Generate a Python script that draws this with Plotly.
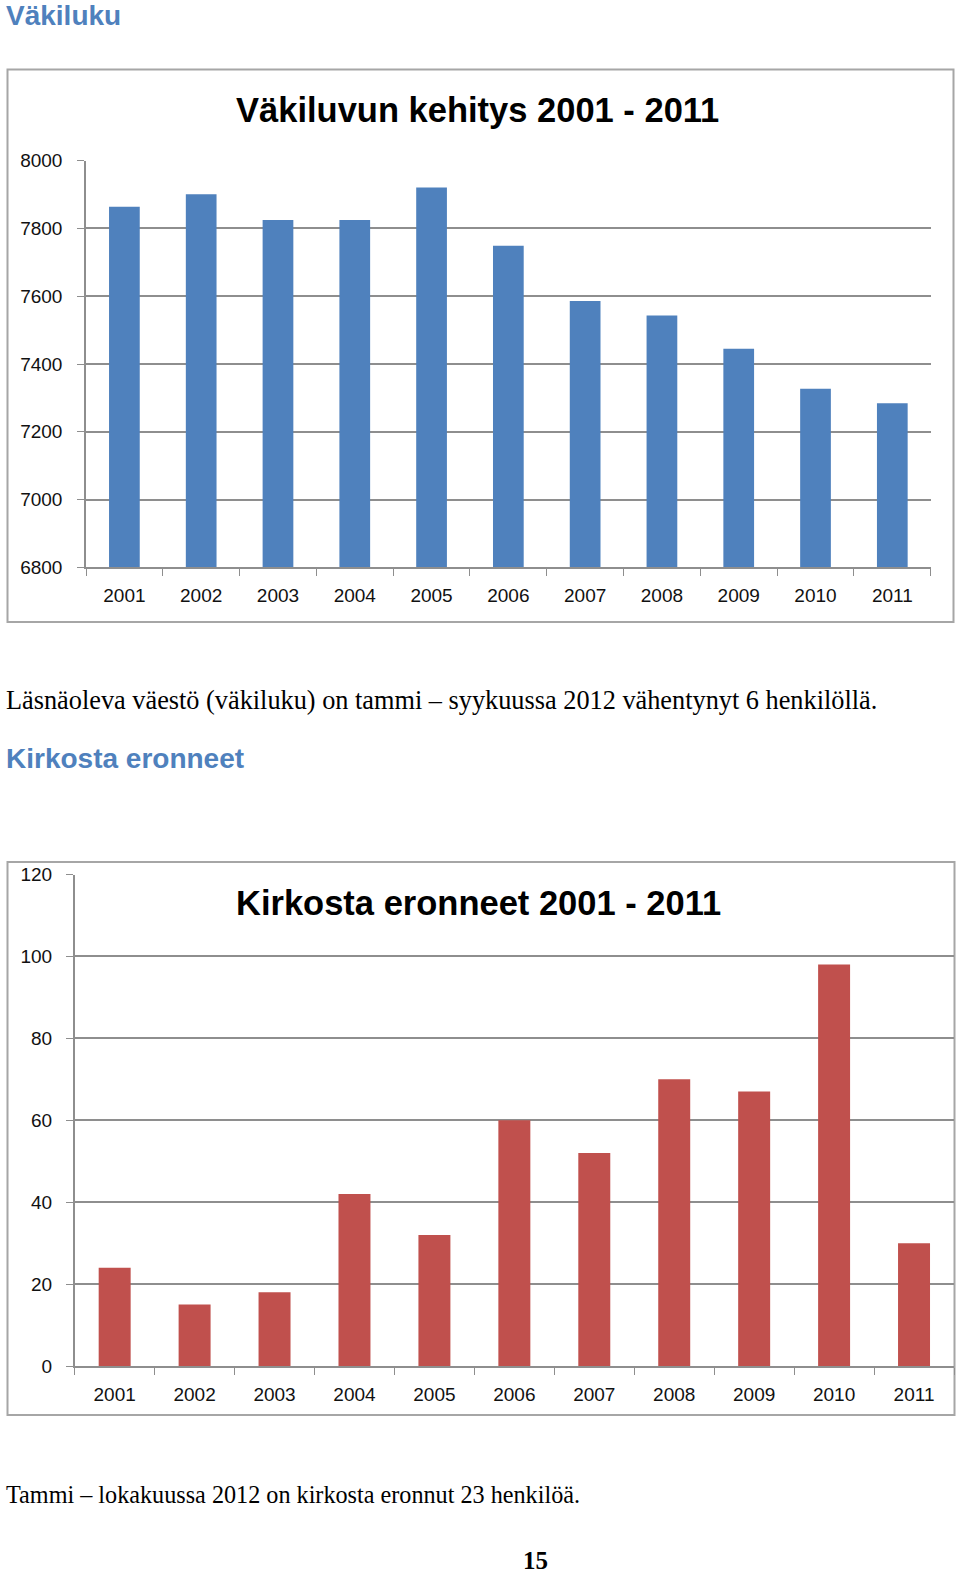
import plotly.graph_objects as go

W, H = 960, 1574

years = ["2001", "2002", "2003", "2004", "2005", "2006", "2007", "2008", "2009", "2010", "2011"]
vakiluku = [7864, 7901, 7825, 7825, 7921, 7749, 7586, 7543, 7445, 7327, 7284]
eronneet = [24, 15, 18, 42, 32, 60, 52, 70, 67, 98, 30]

y1_ticks = [6800, 7000, 7200, 7400, 7600, 7800, 8000]
y2_ticks = [0, 20, 40, 60, 80, 100, 120]

title1 = "Väkiluvun kehitys 2001 - 2011"
title2 = "Kirkosta eronneet 2001 - 2011"
heading1 = "Väkiluku"
heading2 = "Kirkosta eronneet"
text1 = "Läsnäoleva väestö (väkiluku) on tammi – syykuussa 2012 vähentynyt 6 henkilöllä."
text2 = "Tammi – lokakuussa 2012 on kirkosta eronnut 23 henkilöä."
page_no = "15"

BLUE = "#4F81BD"
RED = "#C0504D"
GRID = "#8E8E8E"
BOX = "#A6A6A6"
SANS = "Liberation Sans, Arial, sans-serif"
SERIF = "Liberation Serif, Times New Roman, serif"


def px(x):
    return x / W


def py(y):
    return 1 - y / H


fig = go.Figure()
fig.add_trace(go.Bar(x=years, y=vakiluku, marker=dict(color=BLUE, line=dict(width=0)),
                     xaxis="x", yaxis="y", hoverinfo="skip"))
fig.add_trace(go.Bar(x=years, y=eronneet, marker=dict(color=RED, line=dict(width=0)),
                     xaxis="x2", yaxis="y2", hoverinfo="skip"))

axis_common = dict(showline=True, linecolor=GRID, linewidth=1.5, ticks="outside",
                   ticklen=7, tickcolor=GRID, tickwidth=1.2, automargin=False,
                   tickfont=dict(family=SANS, size=19, color="#111111"), fixedrange=True)

fig.update_layout(
    width=W, height=H, margin=dict(l=0, r=0, t=0, b=0, pad=0, autoexpand=False),
    paper_bgcolor="white", plot_bgcolor="white",
    showlegend=False, bargap=0.6,
    xaxis=dict(domain=[px(86), px(930.7)], anchor="y", type="category",
               tickson="boundaries", showgrid=False, ticklabelstandoff=10, **axis_common),
    yaxis=dict(domain=[py(567.3), py(160.7)], anchor="x", range=[6800, 8000],
               tickvals=y1_ticks, showgrid=True, gridcolor=GRID, gridwidth=1.5,
               zeroline=False, ticklabelstandoff=11, **axis_common),
    xaxis2=dict(domain=[px(74.7), px(954)], anchor="y2", type="category",
                tickson="boundaries", showgrid=False, ticklabelstandoff=10, **axis_common),
    yaxis2=dict(domain=[py(1366), py(874.5)], anchor="x2", range=[0, 120],
                tickvals=y2_ticks, showgrid=True, gridcolor=GRID, gridwidth=1.5,
                zeroline=False, ticklabelstandoff=10, **axis_common),
)

# chart frames
fig.add_shape(type="rect", xref="paper", yref="paper",
              x0=px(7.5), x1=px(953.5), y0=py(622), y1=py(69.5),
              line=dict(color=BOX, width=2), layer="below")
fig.add_shape(type="rect", xref="paper", yref="paper",
              x0=px(7.5), x1=px(954.5), y0=py(1415), y1=py(862),
              line=dict(color=BOX, width=2), layer="below")


def ann(text, x, y, size, family, color="black", bold=False, xanchor="left"):
    fig.add_annotation(text=f"<b>{text}</b>" if bold else text, xref="paper", yref="paper",
                       x=px(x), y=py(y), xanchor=xanchor, yanchor="middle", showarrow=False,
                       borderpad=0, font=dict(family=family, size=size, color=color))


ann(heading1, 5, 16, 28, SANS, color=BLUE, bold=True)
ann(title1, 477.5, 110, 34.5, SANS, bold=True, xanchor="center")
ann(text1, 5, 700, 26.3, SERIF)
ann(heading2, 5, 758, 28, SANS, color=BLUE, bold=True)
ann(title2, 478, 903, 34.5, SANS, bold=True, xanchor="center")
ann(text2, 5, 1494, 24.2, SERIF)
ann(page_no, 535, 1560, 25, SERIF, bold=True, xanchor="center")

fig.write_html("out.html")
